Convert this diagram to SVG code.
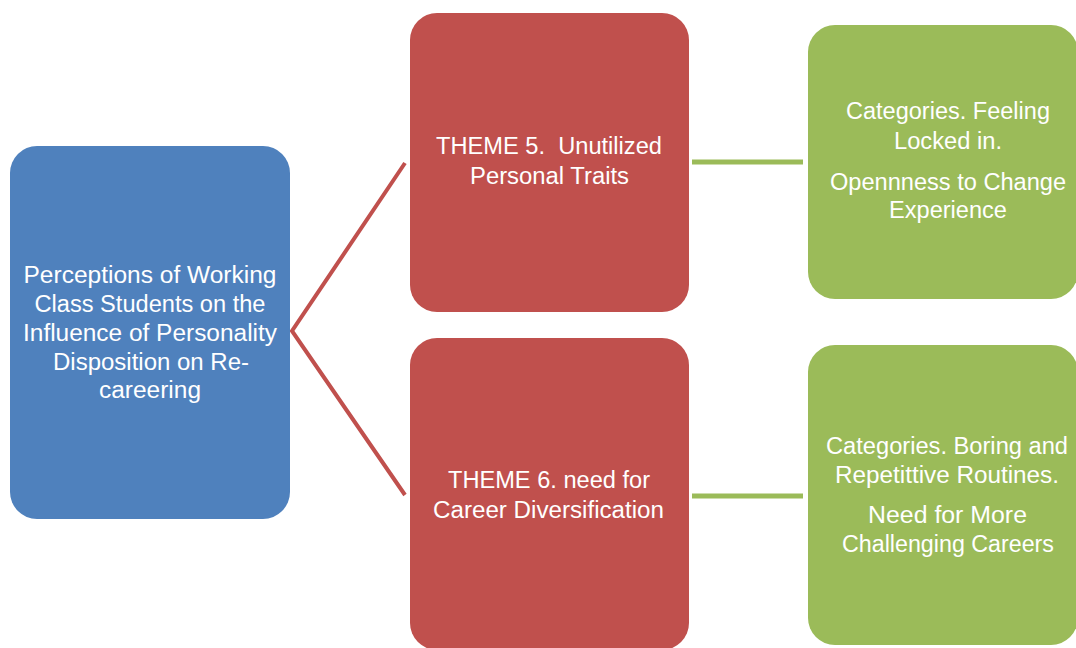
<svg xmlns="http://www.w3.org/2000/svg" width="1076" height="648" viewBox="0 0 1076 648">
<style>
.t{font-family:"Liberation Sans",Arial,sans-serif;font-size:23px;fill:#ffffff;text-anchor:middle}
.blue{fill:#4F81BD}
.red{fill:#C0504D}
.green{fill:#9BBB59}
.cr{stroke:#C0504D;stroke-width:4;fill:none}
.cg{stroke:#9BBB59;stroke-width:5;fill:none}
</style>
<rect width="1076" height="648" fill="#ffffff"/>
<g id="connectors">
<polyline class="cr" points="405,163 292,331 405,495"/>
<line class="cg" x1="692" y1="162" x2="803" y2="162"/>
<line class="cg" x1="692" y1="496" x2="803" y2="496"/>
</g>
<g id="node-root">
<rect class="blue" x="10" y="146" width="280" height="373" rx="27"/>
<text class="t" x="150" y="283" textLength="253" lengthAdjust="spacingAndGlyphs">Perceptions of Working</text>
<text class="t" x="150" y="312" textLength="231" lengthAdjust="spacingAndGlyphs">Class Students on the</text>
<text class="t" x="150" y="341" textLength="254" lengthAdjust="spacingAndGlyphs">Influence of Personality</text>
<text class="t" x="151" y="370" textLength="196" lengthAdjust="spacingAndGlyphs">Disposition on Re-</text>
<text class="t" x="150" y="398" textLength="102" lengthAdjust="spacingAndGlyphs">careering</text>
</g>
<g id="node-theme5">
<rect class="red" x="410" y="13" width="279" height="299" rx="27"/>
<text class="t" x="549" y="154" textLength="226" lengthAdjust="spacingAndGlyphs">THEME 5.&#160; Unutilized</text>
<text class="t" x="549.5" y="184" textLength="159" lengthAdjust="spacingAndGlyphs">Personal Traits</text>
</g>
<g id="node-theme6">
<rect class="red" x="410" y="338" width="279" height="312" rx="27"/>
<text class="t" x="549" y="488" textLength="202" lengthAdjust="spacingAndGlyphs">THEME 6. need for</text>
<text class="t" x="548.5" y="518" textLength="231" lengthAdjust="spacingAndGlyphs">Career Diversification</text>
</g>
<g id="node-cat1">
<rect class="green" x="808" y="25" width="270" height="274" rx="27"/>
<text class="t" x="948" y="119" textLength="204" lengthAdjust="spacingAndGlyphs">Categories. Feeling</text>
<text class="t" x="948" y="149" textLength="108" lengthAdjust="spacingAndGlyphs">Locked in.</text>
<text class="t" x="948" y="190" textLength="236" lengthAdjust="spacingAndGlyphs">Opennness to Change</text>
<text class="t" x="948" y="218" textLength="118" lengthAdjust="spacingAndGlyphs">Experience</text>
</g>
<g id="node-cat2">
<rect class="green" x="808" y="345" width="270" height="300" rx="27"/>
<text class="t" x="947" y="454" textLength="242" lengthAdjust="spacingAndGlyphs">Categories. Boring and</text>
<text class="t" x="947" y="483" textLength="224" lengthAdjust="spacingAndGlyphs">Repetittive Routines.</text>
<text class="t" x="947.5" y="523" textLength="159" lengthAdjust="spacingAndGlyphs">Need for More</text>
<text class="t" x="948" y="552" textLength="212" lengthAdjust="spacingAndGlyphs">Challenging Careers</text>
</g>
</svg>
